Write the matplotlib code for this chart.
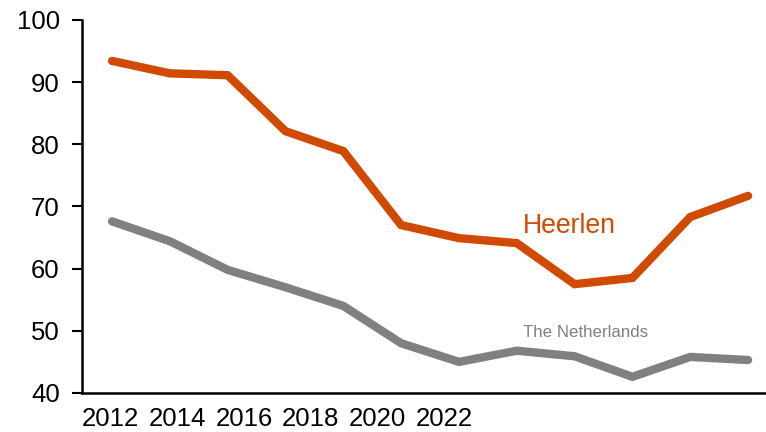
import numpy as np
import matplotlib.pyplot as plt

plt.rcParams['font.family'] = ['Liberation Sans', 'DejaVu Sans']

# Valores das séries
heerlen = [93.4, 91.4, 91.1, 82.1, 78.9, 67.0, 64.9, 64.1, 57.5, 58.5, 68.3, 71.7]
netherlands = [67.6, 64.4, 59.8, 57.0, 54.0, 48.0, 45.0, 46.8, 45.9, 42.6, 45.8, 45.3]
anos = ['2012', '2014', '2016', '2018', '2020', '2022']
y_ticks = [40, 50, 60, 70, 80, 90, 100]

laranja = '#D04A02'
cinza = '#808080'

x = np.arange(len(heerlen))

fig = plt.figure(figsize=(7.66, 4.32), dpi=100)
ax = fig.add_axes([0.107, 0.0903, 0.893, 0.8637])

ax.plot(x, heerlen, color=laranja, lw=6, solid_capstyle='round', solid_joinstyle='miter')
ax.plot(x, netherlands, color=cinza, lw=6, solid_capstyle='round', solid_joinstyle='miter')

ax.set_ylim(40, 100)
ax.set_xlim(-0.52, 11.31)
ax.set_yticks(y_ticks)
ax.tick_params(axis='y', length=7, width=1.5, pad=9, labelsize=18.5)

# rótulos dos anos ficam lado a lado, como texto corrido
ax.set_xticks(np.arange(len(anos)) * 1.156 - 0.03)
ax.set_xticklabels(anos)
ax.tick_params(axis='x', length=0, pad=10, labelsize=18.5)

for s in ['top', 'right']:
    ax.spines[s].set_visible(False)
for s in ['left', 'bottom']:
    ax.spines[s].set_linewidth(1.8)

ax.text(7.1, 66.9, 'Heerlen', color=laranja, fontsize=19.2, va='center', ha='left')
ax.text(7.1, 49.8, 'The Netherlands', color=cinza, fontsize=12.2, va='center', ha='left')

fig.savefig('out.png', dpi=100)
